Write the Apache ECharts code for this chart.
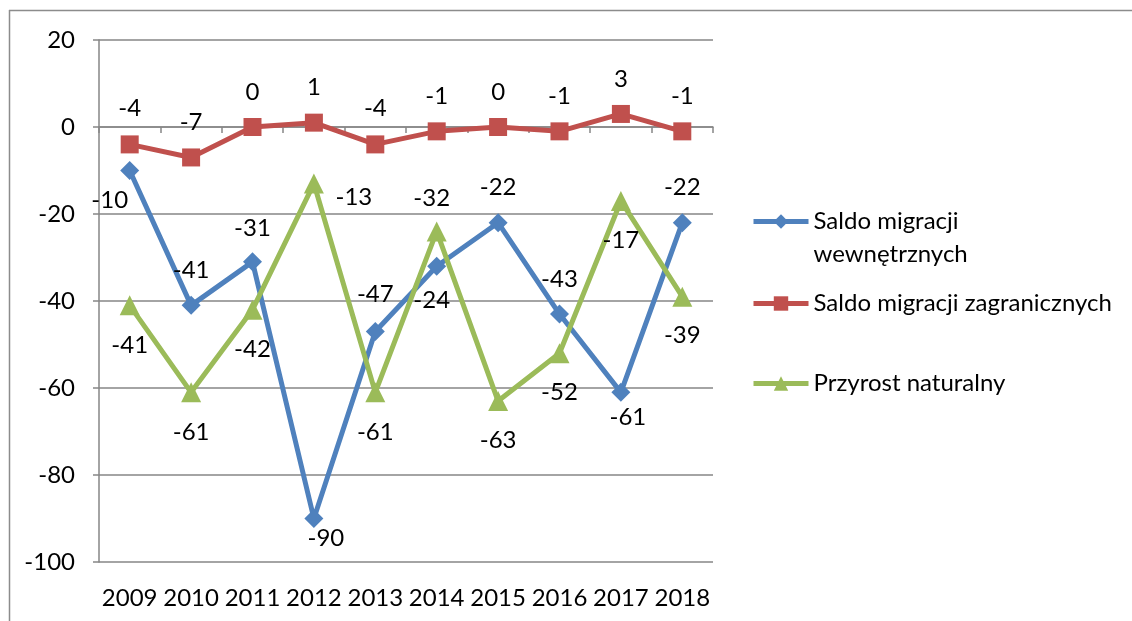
<!DOCTYPE html>
<html>
<head>
<meta charset="utf-8">
<script src="https://cdn.jsdelivr.net/npm/echarts@6/dist/echarts.min.js"></script>
<style>html,body{margin:0;padding:0;background:#fff;}#c{width:1132px;height:621px;}</style>
</head>
<body>
<div id="c"></div>
<script>
var years = ['2009','2010','2011','2012','2013','2014','2015','2016','2017','2018'];
var saldoWewn = [-10, -41, -31, -90, -47, -32, -22, -43, -61, -22];
var saldoZagr = [-4, -7, 0, 1, -4, -1, 0, -1, 3, -1];
var przyrost = [-41, -61, -42, -13, -61, -24, -63, -52, -17, -39];
var yTicks = {min: -100, max: 20, step: 20};
var seriesNames = ['Saldo migracji wewnętrznych', 'Saldo migracji zagranicznych', 'Przyrost naturalny'];

// label offsets (pixels) relative to each point
var offWewn = [[-20,30],[0,-35],[0,-34],[12,20],[0,-37],[-5,-68],[0,-35],[0,-35],[7,25],[0,-35]];
var offZagr = [[0,-36],[0,-35],[0,-35],[0,-35],[0,-36],[0,-35],[0,-35],[0,-35],[0,-35],[0,-35]];
var offPrzy = [[0,40],[0,40],[0,40],[40,14],[0,40],[-5,69],[0,39],[0,39],[0,39],[0,39]];

var FONT = 'Lato';
var FS = 24;
function withLabels(vals, offs) {
  return vals.map(function (v, i) {
    return {value: v, label: {offset: offs[i]}};
  });
}
var chart = echarts.init(document.getElementById('c'), null, {renderer: 'canvas'});
var labelBase = {show: true, position: 'inside', color: '#000', fontFamily: FONT, fontSize: FS};
var legendText = {color: '#000', fontFamily: FONT, fontSize: FS, lineHeight: 33};
var legendLine = {width: 5};
chart.setOption({
  animation: false,
  backgroundColor: '#fff',
  textStyle: {fontFamily: FONT},
  grid: {left: 99, right: 419, top: 40, bottom: 59, containLabel: false},
  graphic: [
    {type: 'line', shape: {x1: 9, y1: 10.5, x2: 1132, y2: 10.5}, style: {stroke: '#8c8c8c', lineWidth: 1.5}},
    {type: 'line', shape: {x1: 9.5, y1: 10, x2: 9.5, y2: 621}, style: {stroke: '#8c8c8c', lineWidth: 1.5}}
  ],
  legend: [
    {data: [seriesNames[0]], left: 746, top: 167, padding: 5, itemWidth: 55, itemHeight: 18,
     formatter: function () { return '\nSaldo migracji\nwewnętrznych'; },
     lineStyle: legendLine, textStyle: legendText},
    {data: [seriesNames[1]], left: 746, top: 282, padding: 5, itemWidth: 55, itemHeight: 18, lineStyle: legendLine, textStyle: legendText},
    {data: [seriesNames[2]], left: 746, top: 362, padding: 5, itemWidth: 55, itemHeight: 18, lineStyle: legendLine, textStyle: legendText}
  ],
  xAxis: [
    {type: 'category', data: years, boundaryGap: true,
     axisLine: {show: true, onZero: true, lineStyle: {color: '#868686', width: 1.5}},
     axisTick: {show: true, interval: 0, length: 6, lineStyle: {color: '#868686', width: 1.5}},
     axisLabel: {show: false}, splitLine: {show: false}},
    {type: 'category', data: years, boundaryGap: true, position: 'bottom',
     axisLine: {show: false, onZero: false}, axisTick: {show: false},
     axisLabel: {show: true, interval: 0, color: '#000', fontFamily: FONT, fontSize: FS, margin: 24},
     splitLine: {show: false}}
  ],
  yAxis: {
    type: 'value', min: yTicks.min, max: yTicks.max, interval: yTicks.step,
    axisLine: {show: true, lineStyle: {color: '#868686', width: 1.5}},
    axisTick: {show: true, length: 6, lineStyle: {color: '#868686', width: 1.5}},
    axisLabel: {color: '#000', fontFamily: FONT, fontSize: FS, margin: 24},
    splitLine: {show: true, lineStyle: {color: '#868686', width: 1.5}}
  },
  series: [
    {name: seriesNames[0], type: 'line', xAxisIndex: 0, data: withLabels(saldoWewn, offWewn),
     symbol: 'diamond', symbolSize: 19, color: '#4F81BD',
     lineStyle: {width: 5, color: '#4F81BD'}, itemStyle: {color: '#4F81BD'}, label: labelBase},
    {name: seriesNames[1], type: 'line', xAxisIndex: 0, data: withLabels(saldoZagr, offZagr),
     symbol: 'rect', symbolSize: 18, color: '#C0504D',
     lineStyle: {width: 5, color: '#C0504D'}, itemStyle: {color: '#C0504D'}, label: labelBase},
    {name: seriesNames[2], type: 'line', xAxisIndex: 0, data: withLabels(przyrost, offPrzy),
     symbol: 'triangle', symbolSize: 20, color: '#9BBB59',
     lineStyle: {width: 5, color: '#9BBB59'}, itemStyle: {color: '#9BBB59'}, label: labelBase}
  ]
});
</script>
</body>
</html>
